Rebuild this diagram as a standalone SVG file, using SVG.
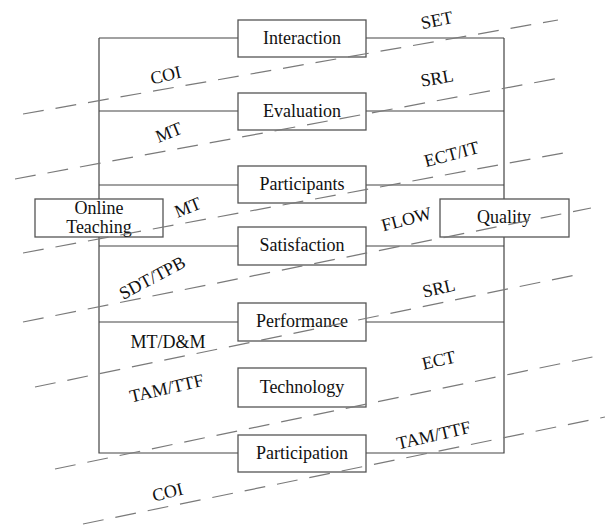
<svg xmlns="http://www.w3.org/2000/svg" width="605" height="525" viewBox="0 0 605 525">
<style>
.box{fill:#fff;stroke:#555;stroke-width:1.3}
text{font-family:'Liberation Serif','Times New Roman',Times,'DejaVu Serif',serif;font-size:18px;fill:#111;text-anchor:middle}
.c{stroke:#444;stroke-width:1.2;fill:none}
.d{stroke:#7a7a7a;stroke-width:1.2;stroke-dasharray:21 12;fill:none}
</style>
<rect width="605" height="525" fill="#fff"/>
<g id="connectors">
<path class="c" d="M99,38V453H238M238,38H99M238,111H99M238,185H99M238,246H99M238,322H99"/>
<path class="c" d="M504,38V453H366M366,38H504M366,111H504M366,185H504M366,246H504M366,322H504"/>
</g>
<g id="n-interaction"><rect class="box" x="238" y="20" width="128" height="37"/><text x="302" y="44">Interaction</text></g>
<g id="n-evaluation"><rect class="box" x="238" y="93" width="128" height="37"/><text x="302" y="117">Evaluation</text></g>
<g id="n-participants"><rect class="box" x="238" y="166" width="128" height="37"/><text x="302" y="190">Participants</text></g>
<g id="n-satisfaction"><rect class="box" x="238" y="227" width="128" height="38"/><text x="302" y="251">Satisfaction</text></g>
<g id="n-performance"><rect class="box" x="238" y="303" width="128" height="38"/><text x="302" y="327">Performance</text></g>
<g id="n-technology"><rect class="box" x="238" y="368" width="128" height="39"/><text x="302" y="393">Technology</text></g>
<g id="n-participation"><rect class="box" x="238" y="435" width="128" height="37"/><text x="302" y="459">Participation</text></g>
<g id="n-online"><rect class="box" x="35" y="199" width="128" height="38"/><text x="99" y="214">Online</text><text x="99" y="233">Teaching</text></g>
<g id="n-quality"><rect class="box" x="440" y="199" width="129" height="38"/><text x="504" y="223">Quality</text></g>
<g id="dashes">
<path class="d" d="M23,114L558,20"/>
<path class="d" d="M15,179L565,77"/>
<path class="d" d="M23,253L569,152"/>
<path class="d" d="M23,322L591,208"/>
<path class="d" d="M35,387L580,274"/>
<path class="d" d="M55,469L602,355"/>
<path class="d" d="M83,524L605,417"/>
</g>
<g id="labels">
<text transform="translate(438,26) rotate(-12)">SET</text>
<text transform="translate(167,81) rotate(-13)">COI</text>
<text transform="translate(438,84) rotate(-10)">SRL</text>
<text transform="translate(171,138) rotate(-22)">MT</text>
<text transform="translate(453,160) rotate(-15)">ECT/IT</text>
<text transform="translate(190,213) rotate(-22)">MT</text>
<text transform="translate(408,225) rotate(-15)">FLOW</text>
<text transform="translate(155,283) rotate(-28)">SDT/TPB</text>
<text transform="translate(440,294) rotate(-13)">SRL</text>
<text x="168" y="348">MT/D&amp;M</text>
<text transform="translate(168,394) rotate(-13)">TAM/TTF</text>
<text transform="translate(440,366) rotate(-13)">ECT</text>
<text transform="translate(435,441) rotate(-13)">TAM/TTF</text>
<text transform="translate(169,498) rotate(-14)">COI</text>
</g>
</svg>
